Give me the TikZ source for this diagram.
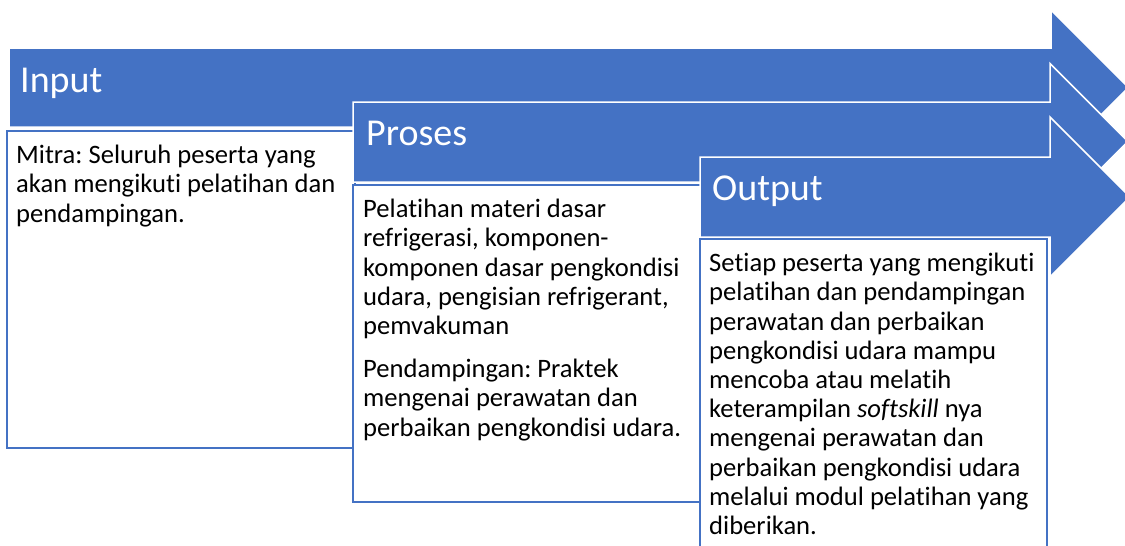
\documentclass[tikz,border=0pt]{standalone}
\usepackage{fontspec}
\setmainfont[Ligatures={NoCommon,NoContextual},RawFeature={-liga;-clig;-calt}]{Carlito}
\frenchspacing
\definecolor{accent}{HTML}{4472C4}
\tikzset{
  arrowshape/.style={fill=accent, draw=white, line width=1.5pt, line join=miter},
  textbox/.style={fill=white, draw=accent, line width=2pt},
  headtext/.style={anchor=base west, inner sep=0pt, text=white, font=\fontsize{38}{44}\selectfont},
  bodytext/.style={anchor=north west, inner sep=0pt, align=left, text=black, font=\fontsize{26.6}{29.2}\selectfont},
}
\begin{document}
\begin{tikzpicture}[x=1pt,y=-1pt]
\useasboundingbox (0,0) rectangle (1125,546);
% Arrow 1 (Input)
\draw[arrowshape] (9,48) -- (1051,48) -- (1051,10) -- (1128.5,87.5) -- (1051,165) -- (1051,127) -- (9,127) -- cycle;
\draw[textbox] (7,131) rectangle (355,448);
% Arrow 2 (Proses)
\draw[arrowshape] (353,102) -- (1050,102) -- (1050,63.5) -- (1128,141.5) -- (1050,219.5) -- (1050,182) -- (353,182) -- cycle;
\draw[textbox] (353,185) rectangle (701,502);
% Arrow 3 (Output)
\draw[arrowshape] (700,157) -- (1050,157) -- (1050,117) -- (1130,197) -- (1050,277) -- (1050,237) -- (700,237) -- cycle;
\draw[textbox] (700,239) rectangle (1047,560);
% Headers
\node[headtext] (hin) at (20,92) {Input};
\node[headtext] (hpr) at (366,145) {Proses};
\node[headtext] (hout) at (712,200) {Output};
% Body texts
\node[bodytext] (tin) at (16,145) {Mitra: Seluruh peserta yang\\akan mengikuti pelatihan dan\\pendampingan.};
\node[bodytext] (tpr) at (363,199) {Pelatihan materi dasar\\refrigerasi, komponen-\\komponen dasar pengkondisi\\udara, pengisian refrigerant,\\pemvakuman\\[14pt]Pendampingan: Praktek\\mengenai perawatan dan\\perbaikan pengkondisi udara.};
\node[bodytext] (tout) at (709,253) {Setiap peserta yang mengikuti\\pelatihan dan pendampingan\\perawatan dan perbaikan\\pengkondisi udara mampu\\mencoba atau melatih\\keterampilan \textit{softskill} nya\\mengenai perawatan dan\\perbaikan pengkondisi udara\\melalui modul pelatihan yang\\diberikan.};
\end{tikzpicture}
\end{document}
